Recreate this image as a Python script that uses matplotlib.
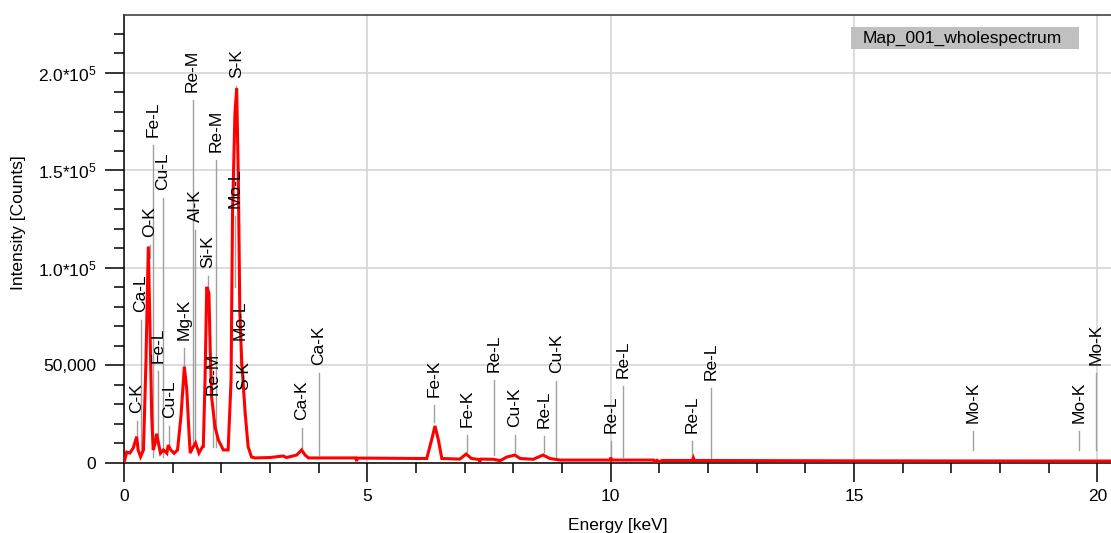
import matplotlib
matplotlib.use("Agg")
import matplotlib.pyplot as plt
from matplotlib.patches import Rectangle
from matplotlib.ticker import FixedLocator, MultipleLocator, FuncFormatter

plt.rcParams['font.family'] = ['Liberation Sans', 'DejaVu Sans']
plt.rcParams['mathtext.fontset'] = 'custom'
plt.rcParams['mathtext.rm'] = 'Liberation Sans'
plt.rcParams['mathtext.it'] = 'Liberation Sans:italic'

# ---- spectrum data (keV, counts) ----
energy_kev = [0.0, 0.055, 0.12, 0.19, 0.26, 0.29, 0.34, 0.40, 0.45, 0.50, 0.535, 0.57,
              0.60, 0.64, 0.67, 0.71, 0.75, 0.81, 0.88, 0.91, 0.96, 1.03, 1.10, 1.17,
              1.24, 1.29, 1.34, 1.36, 1.41, 1.47, 1.54, 1.61, 1.63, 1.665, 1.70, 1.745,
              1.77, 1.80, 1.87, 1.94, 2.04, 2.14, 2.20, 2.23, 2.28, 2.315, 2.35, 2.38,
              2.42, 2.49, 2.55, 2.62, 2.69, 3.0, 3.27, 3.34, 3.55, 3.65, 3.72, 3.79,
              4.0, 4.44, 4.76, 4.78, 4.80, 5.0, 6.22, 6.32, 6.39, 6.46, 6.53, 6.9,
              7.03, 7.14, 7.30, 7.31, 7.33, 7.59, 7.73, 7.86, 8.03, 8.14, 8.41, 8.61,
              8.75, 8.96, 9.99, 10.0, 10.02, 10.88, 10.9, 10.95, 11.0, 11.05, 11.68,
              11.70, 11.72, 15.0, 19.9, 20.3]
counts = [0, 5600, 5100, 7700, 13500, 6700, 3200, 6700, 51000, 111000, 68000, 23700,
          6700, 10000, 15000, 10000, 5000, 6700, 5000, 9200, 6700, 5000, 6700, 23700,
          49400, 37500, 13500, 5100, 7700, 10300, 5100, 8200, 8400, 42600, 90300, 87000,
          59500, 34000, 18500, 11800, 6700, 6700, 42600, 128000, 179500, 192000, 145000, 77000,
          51300, 25600, 8400, 3100, 2600, 2800, 3600, 2800, 4100, 6700, 4100, 2600,
          2600, 2600, 2600, 1000, 2500, 2500, 2300, 11800, 19000, 11800, 2300, 2000,
          4600, 2300, 1800, 700, 2000, 1900, 1200, 3000, 4100, 2300, 1900, 4100,
          2300, 1500, 1500, 2800, 1500, 1500, 600, 1400, 600, 1300, 1300,
          2600, 1300, 1100, 1000, 1000]

# ---- peak labels ----
peak_labels = ['C-K', 'Ca-L', 'O-K', 'Fe-L', 'Cu-L', 'Fe-L', 'Cu-L', 'Mg-K', 'Re-M', 'Al-K',
               'Si-K', 'Re-M', 'Re-M', 'S-K', 'Mo-L', 'Mo-L', 'S-K', 'Ca-K', 'Ca-K',
               'Fe-K', 'Fe-K', 'Re-L', 'Cu-K', 'Re-L', 'Cu-K', 'Re-L', 'Re-L', 'Re-L', 'Re-L',
               'Mo-K', 'Mo-K', 'Mo-K']
peak_kev = [0.26, 0.34, 0.53, 0.59, 0.80, 0.70, 0.93, 1.24, 1.41, 1.46,
            1.72, 1.89, 1.83, 2.31, 2.29, 2.39, 2.46, 3.65, 4.00,
            6.37, 7.05, 7.60, 8.03, 8.63, 8.88, 10.00, 10.26, 11.67, 12.06,
            17.44, 19.63, 19.97]
label_base = [25600, 77400, 115900, 167200, 140000, 51300, 23100, 63100, 190200, 123600,
              100000, 159500, 34900, 197400, 130800, 63100, 37400, 22000, 50300,
              33800, 18500, 46700, 18500, 17900, 46200, 15400, 43600, 15400, 42600,
              20500, 20500, 50300]
line_bottom = [10300, 3000, 105000, 3000, 3000, 8200, 8200, 49200, 8200, 10300,
               87200, 8200, 8200, 191300, 90000, 50300, 24600, 7700, 4100,
               21000, 5600, 4100, 5600, 5600, 3100, 2600, 3100, 2600, 2600,
               6700, 6700, 6700]

y_major = [0, 50000, 100000, 150000, 200000]
y_ticklabels = ['0', '50,000', r'1.0*10$^5$', r'1.5*10$^5$', r'2.0*10$^5$']

fig = plt.figure(figsize=(11.11, 5.33), dpi=100)
ax = fig.add_axes([124/1111, 70/533, 987/1111, 448/533])

ax.plot(energy_kev, counts, color='#ff0000', lw=2.2, zorder=3, solid_joinstyle='miter')

gap = 4100
for lab, e, b, lb in zip(peak_labels, peak_kev, label_base, line_bottom):
    ax.plot([e, e], [b - gap, lb], color='#a0a0a0', lw=1.0, zorder=2)
    ax.text(e, b, lab, rotation=90, ha='center', va='bottom', fontsize=12.5,
            color='black', zorder=4)

ax.set_xlim(0, 20.28)
ax.set_ylim(0, 229700)

ax.xaxis.set_major_locator(MultipleLocator(5))
ax.xaxis.set_minor_locator(MultipleLocator(1))
ax.yaxis.set_major_locator(FixedLocator(y_major))
ax.yaxis.set_minor_locator(MultipleLocator(10000))
ax.set_yticklabels(y_ticklabels)

ax.grid(True, which='major', color='#d9d9d9', lw=1.3, zorder=0)
ax.set_axisbelow(True)

ax.tick_params(axis='both', which='major', direction='out', length=14, width=1.1,
               labelsize=12.5, color='black')
ax.tick_params(axis='both', which='minor', direction='out', length=7, width=1.1, color='black')
ax.tick_params(axis='x', which='major', pad=5)
ax.tick_params(axis='y', which='major', pad=6)

for s in ['left', 'bottom']:
    ax.spines[s].set_color('black')
    ax.spines[s].set_linewidth(1.1)
ax.spines['top'].set_color('#333333')
ax.spines['top'].set_linewidth(1.1)
ax.spines['right'].set_visible(False)

ax.set_xlabel('Energy [keV]', fontsize=12.5)
ax.set_ylabel('Intensity [Counts]', fontsize=12.5)
ax.xaxis.set_label_coords(0.5, -0.122)
ax.yaxis.set_label_coords(-0.0993, 0.536)

# legend box
ax.add_patch(Rectangle((0.7366, 0.9234), 0.231, 0.0505, transform=ax.transAxes,
                       facecolor='#c0c0c0', edgecolor='none', zorder=5))
ax.text(0.7487, 0.9487, 'Map_001_wholespectrum', transform=ax.transAxes,
        ha='left', va='center', fontsize=12.5, zorder=6)

fig.savefig('out.png', dpi=100)
